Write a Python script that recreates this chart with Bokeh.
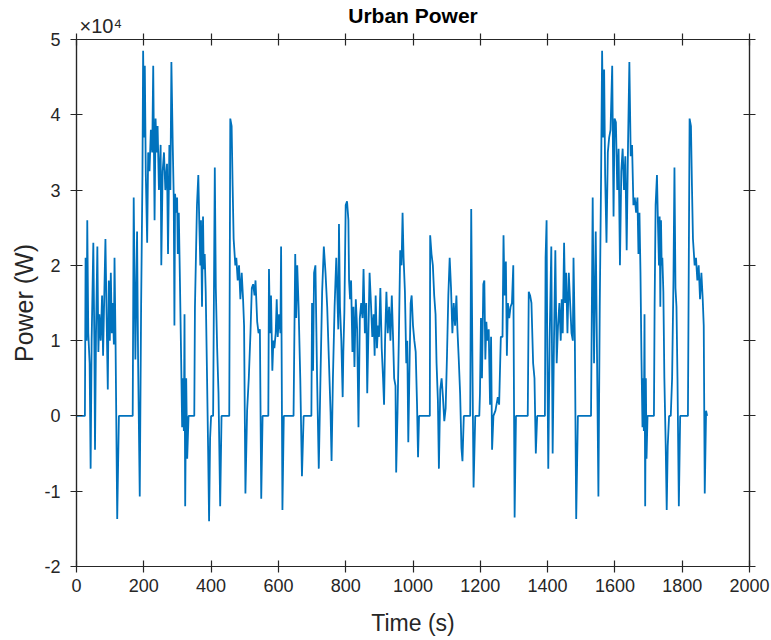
from bokeh.plotting import figure
from bokeh.models import Range1d, FixedTicker, LinearAxis, Title
from bokeh.embed import file_html
from bokeh.resources import INLINE

# Data (time in s, power in W)
time_s = [0, 25, 27, 30, 32, 35, 39, 42, 45, 50, 53, 55, 58, 62, 65, 68, 72, 76, 79, 83,
          86, 89, 93, 96, 99, 102, 105, 108, 111, 113, 116, 121, 126, 167, 170, 175, 180, 183, 188, 192,
          196, 198, 201, 203, 206, 210, 213, 217, 221, 225, 228, 232, 235, 238, 241, 245, 250, 252, 256, 260,
          264, 269, 272, 276, 279, 282, 286, 289, 291, 293, 296, 299, 301, 304, 307, 311, 314, 316, 319, 321,
          323, 326, 329, 333, 350, 352, 358, 362, 365, 368, 370, 373, 376, 378, 381, 384, 388, 391, 394, 397,
          400, 406, 409, 411, 414, 418, 422, 427, 431, 454, 457, 461, 464, 467, 472, 475, 479, 483, 487, 491,
          495, 498, 502, 507, 512, 517, 521, 525, 529, 532, 537, 541, 545, 549, 553, 570, 572, 575, 578, 582,
          585, 588, 592, 595, 598, 602, 606, 608, 612, 616, 645, 650, 653, 656, 660, 665, 670, 675, 698, 700,
          703, 706, 710, 715, 720, 725, 730, 735, 740, 745, 750, 755, 758, 762, 767, 772, 778, 780, 783, 787,
          791, 793, 796, 800, 804, 808, 810, 813, 816, 820, 823, 826, 830, 834, 838, 842, 846, 850, 853, 857,
          861, 864, 867, 871, 875, 879, 883, 886, 889, 893, 896, 899, 903, 907, 911, 914, 917, 921, 925, 929,
          933, 937, 941, 944, 948, 950, 954, 958, 962, 966, 969, 972, 976, 980, 983, 986, 990, 993, 996, 1000,
          1004, 1008, 1012, 1015, 1018, 1050, 1051, 1055, 1059, 1063, 1067, 1070, 1074, 1077, 1081, 1085, 1089, 1093, 1097, 1101,
          1105, 1109, 1113, 1117, 1121, 1125, 1129, 1132, 1136, 1140, 1144, 1147, 1151, 1170, 1173, 1177, 1180, 1185, 1197, 1199,
          1202, 1205, 1209, 1212, 1215, 1218, 1221, 1225, 1229, 1232, 1235, 1239, 1245, 1252, 1256, 1261, 1266, 1269, 1272, 1276,
          1279, 1282, 1286, 1290, 1294, 1298, 1302, 1306, 1341, 1344, 1348, 1352, 1357, 1361, 1365, 1369, 1392, 1394, 1397, 1399,
          1402, 1406, 1411, 1415, 1419, 1423, 1427, 1431, 1435, 1439, 1442, 1445, 1449, 1452, 1455, 1459, 1463, 1467, 1471, 1475,
          1477, 1481, 1485, 1490, 1529, 1534, 1538, 1543, 1547, 1551, 1555, 1559, 1562, 1565, 1568, 1571, 1575, 1579, 1583, 1587,
          1592, 1596, 1599, 1603, 1607, 1611, 1615, 1619, 1623, 1627, 1631, 1635, 1639, 1643, 1647, 1651, 1655, 1659, 1663, 1667,
          1670, 1673, 1676, 1679, 1682, 1684, 1686, 1688, 1690, 1692, 1694, 1697, 1716, 1718, 1721, 1725, 1728, 1731, 1733, 1735,
          1737, 1739, 1741, 1744, 1747, 1751, 1754, 1757, 1761, 1766, 1770, 1774, 1777, 1780, 1783, 1786, 1790, 1794, 1817, 1822,
          1826, 1829, 1832, 1837, 1841, 1845, 1849, 1853, 1857, 1861, 1864, 1867, 1871, 1874]

power_w = [0, 0, 21000, 10000, 26000, 11000, 7000, -7000, 10000, 23000, 10000, -4500, 11000, 22500, 8500, 13500, 10000, 16000, 8000, 17000,
           23500, 14500, 3500, 18000, 10000, 19000, 11000, 15000, 9500, 21000, 10000, -13700, 0, 0, 29000, 7500, 24500, 7500, -10700, 14500,
           32000, 48500, 37000, 46500, 32000, 23000, 35000, 32500, 38000, 35000, 46500, 26000, 39500, 35000, 38500, 30000, 36000, 20000, 32500, 35000,
           30000, 33500, 21500, 36000, 30000, 47000, 36000, 29000, 12000, 29500, 27000, 29000, 21500, 27000, 19000, 7500, -1500, 5000, -2000, 13500,
           -12000, 5000, -5700, 0, 0, 14500, 28000, 32000, 25500, 20000, 26000, 14500, 26500, 19500, 21500, 16500, 5000, -4000, -14000, -3000,
           0, 0, 20000, 33000, 17000, 9000, 3000, -12000, 0, 0, 39500, 38500, 30500, 23500, 20000, 21000, 18000, 20000, 15500, 19000,
           15500, 12000, -10300, 700, 5000, 11000, 17000, 17500, 16000, 18000, 12500, 11000, 11500, -11000, 0, 0, 19500, 11000, 16000, 6000,
           10000, 9000, 11000, 15500, 10500, 13500, 11000, 22500, -12500, 0, 0, 21500, 13000, 20000, 14500, 5000, -8000, 0, 0, 15000,
           6000, 19000, 20000, 5000, -7000, 5000, 16500, 22500, 19000, 14500, 7500, 500, -6000, 5000, 14500, 21000, 11500, 25500, 14500, 10000,
           2500, 8500, 13700, 28000, 28500, 26000, 18000, 15500, 18000, 8500, 14500, 6500, 15500, 11500, -1500, 13000, 15000, 13000, 19500, 11000,
           15000, 3000, 10000, 19000, 15000, 10500, 13500, 8000, 16000, 9000, 12000, 10500, 17000, 9000, 5000, 1500, 10000, 16500, 11000, 14500,
           10000, 16000, 10000, 5000, 4000, -7500, 500, 10500, 22000, 20000, 27000, 21000, 16500, 7000, 10000, -3500, 7500, 15000, 16000, 12000,
           10000, 8500, 1500, -5500, 0, 0, 24000, 21500, 20000, 16000, 13500, 7000, 2000, -7000, 3500, 5000, 2500, -700, 1000, 8000,
           16000, 21000, 17000, 11000, 15000, 12000, 16000, 11500, 7500, 3000, -4300, -6000, 0, 0, 27500, 5000, -9500, 0, 0, 3000,
           13000, 5000, 17500, 18000, 7500, 12500, 10000, 11500, 1500, 10500, -4500, 0, 700, 2500, 1500, 10500, 10500, 24000, 16000, 20500,
           8000, 15000, 13000, 14500, 15000, 20000, -13500, 0, 0, 16500, 16000, 15000, 7000, 5000, -5000, 0, 0, 21000, 26000, 9000,
           -7000, 10000, 22500, -5000, 10000, 22000, 7000, 12000, 15000, 10000, 15500, 11000, 23000, 15000, 19000, 11000, 19000, 15000, 11000, 10000,
           21000, 10000, -13700, 0, 0, 29000, 7000, 24500, 7500, -10700, 14500, 32000, 48500, 37000, 46000, 32000, 23000, 35000, 37000, 38000,
           46500, 26500, 39500, 39000, 30000, 35500, 20000, 32500, 35500, 30000, 34500, 22000, 36000, 47000, 34500, 36000, 28000, 29000, 27000, 29000,
           21500, 27000, 19000, 7500, -1500, 5000, -2000, 13500, -12000, 5000, -5700, 0, 0, 14500, 28000, 32000, 25500, 20000, 26500, 14500,
           26000, 20000, 21000, 16500, 5000, -4000, -12500, -4000, 0, 0, 5000, 18000, 33000, 17000, 14500, 5000, -12000, 0, 0, 39500,
           38500, 30500, 23500, 20000, 21000, 18000, 20000, 15500, 19000, 15500, 12000, -10300, 700, 0]

x_ticks = [0, 200, 400, 600, 800, 1000, 1200, 1400, 1600, 1800, 2000]
y_ticks = [-20000, -10000, 0, 10000, 20000, 30000, 40000, 50000]
y_tick_labels = ["-2", "-1", "0", "1", "2", "3", "4", "5"]
exponent_text = "×10⁴"
exponent_anchor = [72]

AX = "#262626"
FONT = "Liberation Sans"

p = figure(width=771, height=640, output_backend="svg", toolbar_location=None,
           x_range=Range1d(0, 2000), y_range=Range1d(-20000, 50000),
           min_border_left=76, min_border_right=22, min_border_top=38, min_border_bottom=74)

p.line(time_s, power_w, line_color="#0072BD", line_width=1.8)

p.grid.visible = False
p.outline_line_color = AX
p.outline_line_width = 1.2
p.background_fill_color = "white"
p.border_fill_color = "white"

xa = p.xaxis[0]
xa.ticker = FixedTicker(ticks=x_ticks)
xa.axis_label = "Time (s)"
ya = p.yaxis[0]
ya.ticker = FixedTicker(ticks=y_ticks)
ya.major_label_overrides = {t: l for t, l in zip(y_ticks, y_tick_labels)}

# top axis: ticks only
top = LinearAxis(ticker=FixedTicker(ticks=x_ticks), major_label_text_font_size="0px",
                 major_label_standoff=0,
                 major_label_overrides={t: "" for t in x_ticks})
# right axis: ticks only
right = LinearAxis(ticker=FixedTicker(ticks=y_ticks), major_label_text_font_size="0px",
                   major_label_standoff=0,
                   major_label_overrides={t: "" for t in y_ticks})
for ax in (xa, ya, top, right):
    ax.axis_line_color = AX
    ax.axis_line_width = 1.2
    ax.major_tick_line_color = AX
    ax.major_tick_line_width = 1.2
    ax.major_tick_in = 6
    ax.major_tick_out = 6
    ax.minor_tick_line_color = None
p.add_layout(top, "above")
p.add_layout(right, "right")

# invisible axis carrying the exponent and the title
top2 = LinearAxis(ticker=FixedTicker(ticks=exponent_anchor), axis_line_color=None,
                  major_tick_line_color=None, minor_tick_line_color=None,
                  major_tick_in=0, major_tick_out=0,
                  major_label_overrides={exponent_anchor[0]: exponent_text})
top2.major_label_text_font = FONT
top2.major_label_text_font_size = "20px"
top2.major_label_text_color = AX
top2.major_label_standoff = -3
top2.axis_label = "Urban Power"
top2.axis_label_text_font = FONT
top2.axis_label_text_font_size = "21px"
top2.axis_label_text_font_style = "bold"
top2.axis_label_text_color = "#000000"
top2.axis_label_standoff = -15
p.add_layout(top2, "above")

for ax in (xa, ya):
    ax.major_label_text_font = FONT
    ax.major_label_text_font_size = "18px"
    ax.major_label_text_color = AX
    ax.axis_label_text_font = FONT
    ax.axis_label_text_color = AX

xa.major_label_standoff = 6
xa.axis_label_text_font_size = "23px"
xa.axis_label_text_font_style = "normal"
xa.axis_label_standoff = 15
ya.major_label_standoff = 10

ylab = Title(text="Power (W)", align="center", offset=-26, standoff=8,
             text_font=FONT, text_font_size="25px", text_font_style="normal",
             text_color=AX)
p.add_layout(ylab, "left")

open("out.html", "w").write(file_html(p, INLINE))
